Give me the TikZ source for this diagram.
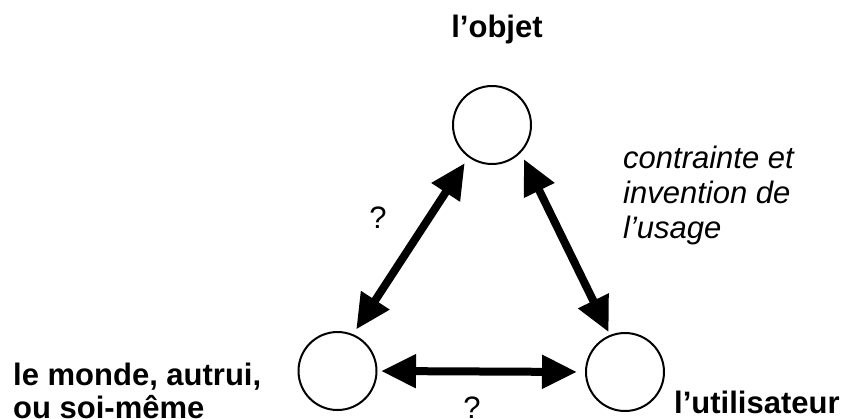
\documentclass[tikz,border=0pt]{standalone}
\usepackage{fontspec}
\setmainfont{Liberation Sans}
\usetikzlibrary{arrows.meta}
\begin{document}
\begin{tikzpicture}[x=1pt,y=1pt,
  pole/.style={circle, draw, line width=2pt, minimum size=78pt, inner sep=0pt},
  link/.style={line width=8pt, {Triangle[length=35pt,width=32pt]}-{Triangle[length=35pt,width=32pt]}},
  lbl/.style={font=\fontsize{31}{33}\selectfont\bfseries, inner sep=0pt},
  ital/.style={font=\fontsize{31}{35}\selectfont\itshape, inner sep=0pt, align=left},
  qm/.style={font=\fontsize{31}{35}\selectfont, inner sep=0pt}]
\useasboundingbox (0,0) rectangle (842,-418);
\fill[white] (0,0) rectangle (842,-418);
\node[pole] (top) at (492,-125) {};
\node[pole] (bl) at (337.5,-371) {};
\node[pole] (br) at (625,-372) {};
\draw[link, shorten <=6.8pt, shorten >=5.6pt] (top.-126) -- (bl.67);
\draw[link, shorten <=7pt, shorten >=3pt] (top.-44) -- (br.112);
\draw[link, shorten <=3.5pt, shorten >=8pt] (bl.east) -- (br.west);
\node[lbl, anchor=base] (objet) at (497,-37) {l’objet};
\node[lbl, anchor=north west, align=left] (monde) at (13,-363) {le monde, autrui,\\ou soi-même};
\node[lbl, anchor=base west] (util) at (674,-413) {l’utilisateur};
\node[ital, anchor=north west] (contr) at (623,-146) {contrainte et\\invention de\\l’usage};
\node[qm] (q1) at (378,-218) {?};
\node[qm, anchor=base] (q2) at (472,-418) {?};
\end{tikzpicture}
\end{document}
